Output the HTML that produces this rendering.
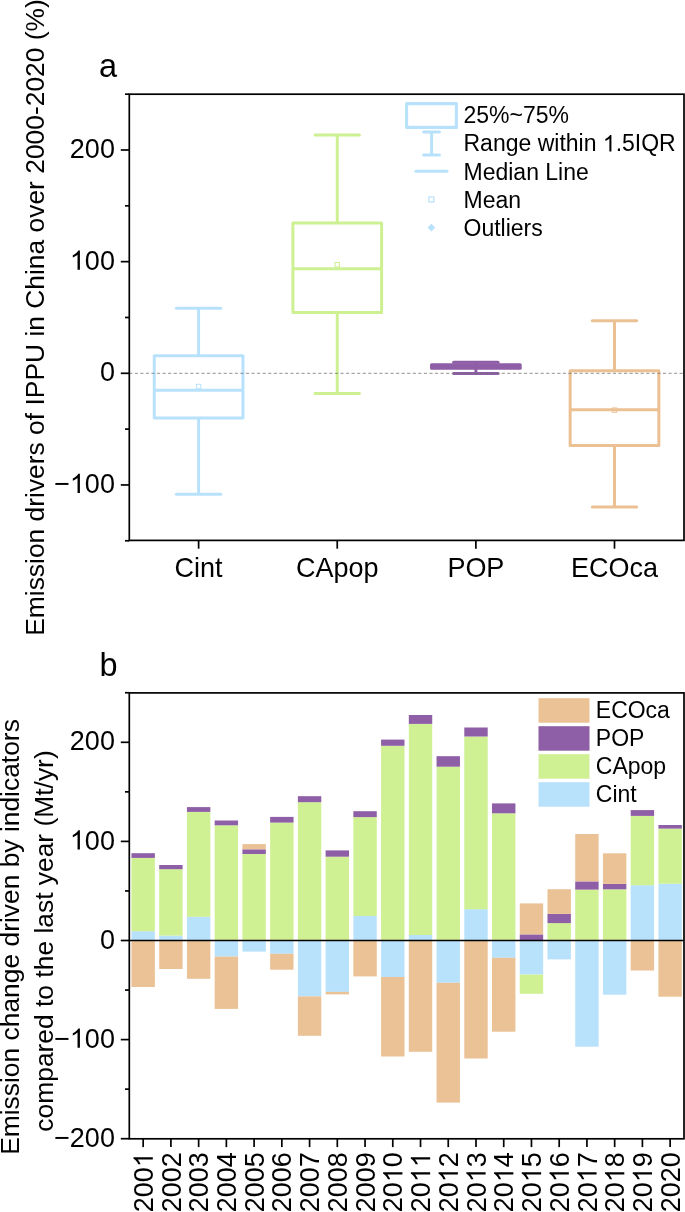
<!DOCTYPE html>
<html><head><meta charset="utf-8"><style>
html,body{margin:0;padding:0;background:#fff;}
body{width:685px;height:1212px;overflow:hidden;}
svg{display:block;will-change:transform;}
text{font-family:"Liberation Sans",sans-serif;fill:#000;}
</style></head><body>
<svg width="685" height="1212" viewBox="0 0 685 1212">
<rect width="685" height="1212" fill="#fff"/>
<line x1="198.62" y1="308.30" x2="198.62" y2="355.70" stroke="#B8E2FC" stroke-width="3.0" fill="none"/>
<line x1="198.62" y1="418.00" x2="198.62" y2="494.20" stroke="#B8E2FC" stroke-width="3.0" fill="none"/>
<line x1="176.42" y1="308.30" x2="220.81" y2="308.30" stroke="#B8E2FC" stroke-width="3.0" fill="none" stroke-linecap="round"/>
<line x1="176.42" y1="494.20" x2="220.81" y2="494.20" stroke="#B8E2FC" stroke-width="3.0" fill="none" stroke-linecap="round"/>
<rect x="154.27" y="355.70" width="88.70" height="62.30" stroke="#B8E2FC" stroke-width="3.0" fill="none" stroke-linejoin="round"/>
<line x1="154.27" y1="390.20" x2="242.97" y2="390.20" stroke="#B8E2FC" stroke-width="3.0" fill="none"/>
<rect x="196.42" y="384.30" width="4.4" height="4.4" stroke="#B8E2FC" stroke-width="1" fill="none"/>
<line x1="337.25" y1="134.90" x2="337.25" y2="223.10" stroke="#CDF093" stroke-width="3.0" fill="none"/>
<line x1="337.25" y1="312.50" x2="337.25" y2="393.60" stroke="#CDF093" stroke-width="3.0" fill="none"/>
<line x1="315.05" y1="134.90" x2="359.44" y2="134.90" stroke="#CDF093" stroke-width="3.0" fill="none" stroke-linecap="round"/>
<line x1="315.05" y1="393.60" x2="359.44" y2="393.60" stroke="#CDF093" stroke-width="3.0" fill="none" stroke-linecap="round"/>
<rect x="292.89" y="223.10" width="88.70" height="89.40" stroke="#CDF093" stroke-width="3.0" fill="none" stroke-linejoin="round"/>
<line x1="292.89" y1="268.70" x2="381.60" y2="268.70" stroke="#CDF093" stroke-width="3.0" fill="none"/>
<rect x="335.05" y="262.50" width="4.4" height="4.4" stroke="#CDF093" stroke-width="1" fill="none"/>
<line x1="475.88" y1="362.20" x2="475.88" y2="373.40" stroke="#8E5EA6" stroke-width="3.0" fill="none"/>
<line x1="453.68" y1="362.20" x2="498.07" y2="362.20" stroke="#8E5EA6" stroke-width="3.0" fill="none" stroke-linecap="round"/>
<line x1="453.68" y1="373.40" x2="498.07" y2="373.40" stroke="#8E5EA6" stroke-width="3.0" fill="none" stroke-linecap="round"/>
<rect x="431.52" y="364.80" width="88.70" height="3.40" fill="#8E5EA6" stroke="#8E5EA6" stroke-width="3.0" stroke-linejoin="round"/>
<line x1="614.50" y1="320.70" x2="614.50" y2="370.80" stroke="#EBC194" stroke-width="3.0" fill="none"/>
<line x1="614.50" y1="445.50" x2="614.50" y2="507.00" stroke="#EBC194" stroke-width="3.0" fill="none"/>
<line x1="592.30" y1="320.70" x2="636.71" y2="320.70" stroke="#EBC194" stroke-width="3.0" fill="none" stroke-linecap="round"/>
<line x1="592.30" y1="507.00" x2="636.71" y2="507.00" stroke="#EBC194" stroke-width="3.0" fill="none" stroke-linecap="round"/>
<rect x="570.15" y="370.80" width="88.70" height="74.70" stroke="#EBC194" stroke-width="3.0" fill="none" stroke-linejoin="round"/>
<line x1="570.15" y1="409.70" x2="658.86" y2="409.70" stroke="#EBC194" stroke-width="3.0" fill="none"/>
<rect x="612.30" y="407.90" width="4.4" height="4.4" stroke="#EBC194" stroke-width="1" fill="none"/>
<line x1="129.30" y1="373.30" x2="684.00" y2="373.30" stroke="#6e6e6e" stroke-width="0.75" stroke-dasharray="3.2 2.36" stroke-dashoffset="0.15"/>
<rect x="129.30" y="94.20" width="554.70" height="446.20" fill="none" stroke="#000" stroke-width="1.7"/>
<line x1="120.80" y1="150.00" x2="129.30" y2="150.00" stroke="#000" stroke-width="1.7" />
<g><text transform="translate(114.90,158.10) scale(1,1.032)" x="0" y="0" font-size="27" text-anchor="end">200</text></g>
<line x1="120.80" y1="261.65" x2="129.30" y2="261.65" stroke="#000" stroke-width="1.7" />
<g><text transform="translate(114.90,269.75) scale(1,1.032)" x="0" y="0" font-size="27" text-anchor="end">&#8199;00</text><path d="M763 0L583 0L583 1147Q518 1085 412.5 1023Q307 961 223 930L223 1104Q374 1175 484.5 1273.5Q595 1372 645 1466L763 1466Z" transform="translate(69.85,269.75) scale(0.01318,-0.01318)"/></g>
<line x1="120.80" y1="373.30" x2="129.30" y2="373.30" stroke="#000" stroke-width="1.7" />
<g><text transform="translate(114.90,381.40) scale(1,1.032)" x="0" y="0" font-size="27" text-anchor="end">0</text></g>
<line x1="120.80" y1="484.95" x2="129.30" y2="484.95" stroke="#000" stroke-width="1.7" />
<g><text transform="translate(114.90,493.05) scale(1,1.032)" x="0" y="0" font-size="27" text-anchor="end">&#8722;&#8199;00</text><path d="M763 0L583 0L583 1147Q518 1085 412.5 1023Q307 961 223 930L223 1104Q374 1175 484.5 1273.5Q595 1372 645 1466L763 1466Z" transform="translate(69.85,493.05) scale(0.01318,-0.01318)"/></g>
<line x1="125.00" y1="94.18" x2="129.30" y2="94.18" stroke="#000" stroke-width="1.7" />
<line x1="125.00" y1="205.83" x2="129.30" y2="205.83" stroke="#000" stroke-width="1.7" />
<line x1="125.00" y1="317.48" x2="129.30" y2="317.48" stroke="#000" stroke-width="1.7" />
<line x1="125.00" y1="429.12" x2="129.30" y2="429.12" stroke="#000" stroke-width="1.7" />
<line x1="125.00" y1="540.77" x2="129.30" y2="540.77" stroke="#000" stroke-width="1.7" />
<line x1="198.62" y1="540.40" x2="198.62" y2="548.70" stroke="#000" stroke-width="1.7" />
<text transform="translate(198.62,577.30) scale(1,1.02)" x="0" y="0" font-size="27" text-anchor="middle" >Cint</text>
<line x1="337.25" y1="540.40" x2="337.25" y2="548.70" stroke="#000" stroke-width="1.7" />
<text transform="translate(337.25,577.30) scale(1,1.03)" x="0" y="0" font-size="27" text-anchor="middle" >CApop</text>
<line x1="475.88" y1="540.40" x2="475.88" y2="548.70" stroke="#000" stroke-width="1.7" />
<text transform="translate(475.88,577.30) scale(1,1.03)" x="0" y="0" font-size="27" text-anchor="middle" >POP</text>
<line x1="614.50" y1="540.40" x2="614.50" y2="548.70" stroke="#000" stroke-width="1.7" />
<text transform="translate(614.50,577.30) scale(1,1.03)" x="0" y="0" font-size="27" text-anchor="middle" >ECOca</text>
<text x="99.00" y="77.30" font-size="32.5" text-anchor="start" >a</text>
<text transform="translate(44.3,317.5) rotate(-90)" x="0" y="0" font-size="26.4" text-anchor="middle">Emission drivers of IPPU in China over 2000-2020 (%)</text>
<rect x="406.6" y="103.6" width="49.8" height="23.8" fill="none" stroke="#B8E2FC" stroke-width="3.1" stroke-linejoin="round"/>
<line x1="431.6" y1="132.1" x2="431.6" y2="155.1" stroke="#B8E2FC" stroke-width="3"/>
<line x1="423.6" y1="132.1" x2="439.5" y2="132.1" stroke="#B8E2FC" stroke-width="3" stroke-linecap="round"/>
<line x1="423.6" y1="155.1" x2="439.5" y2="155.1" stroke="#B8E2FC" stroke-width="3" stroke-linecap="round"/>
<line x1="415.9" y1="171.3" x2="447.0" y2="171.3" stroke="#B8E2FC" stroke-width="3" stroke-linecap="round"/>
<rect x="428.9" y="197.0" width="5" height="5" fill="none" stroke="#B8E2FC" stroke-width="1.2"/>
<path d="M431.4 223.8 L435.2 227.6 L431.4 231.4 L427.6 227.6 Z" fill="#B8E2FC"/>
<text transform="translate(463.50,123.30) scale(1,1.032)" x="0" y="0" font-size="23" text-anchor="start" >25%~75%</text>
<text x="463.50" y="151.40" font-size="23" text-anchor="start" >Range within &#8199;.5IQR</text>
<text x="463.50" y="179.50" font-size="23" text-anchor="start" >Median Line</text>
<text x="463.50" y="207.60" font-size="23" text-anchor="start" >Mean</text>
<text x="463.50" y="235.70" font-size="23" text-anchor="start" >Outliers</text>
<path d="M763 0L583 0L583 1147Q518 1085 412.5 1023Q307 961 223 930L223 1104Q374 1175 484.5 1273.5Q595 1372 645 1466L763 1466Z" transform="translate(602.84,151.40) scale(0.01123,-0.01123)"/>
<rect x="131.47" y="931.20" width="23.4" height="9.30" fill="#B8E2FC"/>
<rect x="131.47" y="857.90" width="23.4" height="73.30" fill="#CFF093"/>
<rect x="131.47" y="853.20" width="23.4" height="4.70" fill="#8E5EA6"/>
<rect x="131.47" y="940.50" width="23.4" height="46.50" fill="#EBC295"/>
<rect x="159.20" y="935.60" width="23.4" height="4.90" fill="#B8E2FC"/>
<rect x="159.20" y="869.20" width="23.4" height="66.40" fill="#CFF093"/>
<rect x="159.20" y="865.00" width="23.4" height="4.20" fill="#8E5EA6"/>
<rect x="159.20" y="940.50" width="23.4" height="28.50" fill="#EBC295"/>
<rect x="186.94" y="916.80" width="23.4" height="23.70" fill="#B8E2FC"/>
<rect x="186.94" y="811.90" width="23.4" height="104.90" fill="#CFF093"/>
<rect x="186.94" y="807.10" width="23.4" height="4.80" fill="#8E5EA6"/>
<rect x="186.94" y="940.50" width="23.4" height="38.30" fill="#EBC295"/>
<rect x="214.67" y="825.30" width="23.4" height="115.20" fill="#CFF093"/>
<rect x="214.67" y="820.50" width="23.4" height="4.80" fill="#8E5EA6"/>
<rect x="214.67" y="940.50" width="23.4" height="16.10" fill="#B8E2FC"/>
<rect x="214.67" y="956.60" width="23.4" height="52.30" fill="#EBC295"/>
<rect x="242.41" y="854.00" width="23.4" height="86.50" fill="#CFF093"/>
<rect x="242.41" y="849.30" width="23.4" height="4.70" fill="#8E5EA6"/>
<rect x="242.41" y="844.10" width="23.4" height="5.20" fill="#EBC295"/>
<rect x="242.41" y="940.50" width="23.4" height="11.10" fill="#B8E2FC"/>
<rect x="270.14" y="822.60" width="23.4" height="117.90" fill="#CFF093"/>
<rect x="270.14" y="816.90" width="23.4" height="5.70" fill="#8E5EA6"/>
<rect x="270.14" y="940.50" width="23.4" height="13.30" fill="#B8E2FC"/>
<rect x="270.14" y="953.80" width="23.4" height="15.90" fill="#EBC295"/>
<rect x="297.88" y="802.20" width="23.4" height="138.30" fill="#CFF093"/>
<rect x="297.88" y="796.20" width="23.4" height="6.00" fill="#8E5EA6"/>
<rect x="297.88" y="940.50" width="23.4" height="55.90" fill="#B8E2FC"/>
<rect x="297.88" y="996.40" width="23.4" height="39.40" fill="#EBC295"/>
<rect x="325.61" y="856.70" width="23.4" height="83.80" fill="#CFF093"/>
<rect x="325.61" y="850.40" width="23.4" height="6.30" fill="#8E5EA6"/>
<rect x="325.61" y="940.50" width="23.4" height="51.40" fill="#B8E2FC"/>
<rect x="325.61" y="991.90" width="23.4" height="2.50" fill="#EBC295"/>
<rect x="353.35" y="916.00" width="23.4" height="24.50" fill="#B8E2FC"/>
<rect x="353.35" y="817.10" width="23.4" height="98.90" fill="#CFF093"/>
<rect x="353.35" y="811.20" width="23.4" height="5.90" fill="#8E5EA6"/>
<rect x="353.35" y="940.50" width="23.4" height="35.90" fill="#EBC295"/>
<rect x="381.08" y="745.80" width="23.4" height="194.70" fill="#CFF093"/>
<rect x="381.08" y="739.60" width="23.4" height="6.20" fill="#8E5EA6"/>
<rect x="381.08" y="940.50" width="23.4" height="36.50" fill="#B8E2FC"/>
<rect x="381.08" y="977.00" width="23.4" height="79.50" fill="#EBC295"/>
<rect x="408.82" y="935.00" width="23.4" height="5.50" fill="#B8E2FC"/>
<rect x="408.82" y="723.90" width="23.4" height="211.10" fill="#CFF093"/>
<rect x="408.82" y="715.00" width="23.4" height="8.90" fill="#8E5EA6"/>
<rect x="408.82" y="940.50" width="23.4" height="111.30" fill="#EBC295"/>
<rect x="436.55" y="766.70" width="23.4" height="173.80" fill="#CFF093"/>
<rect x="436.55" y="756.20" width="23.4" height="10.50" fill="#8E5EA6"/>
<rect x="436.55" y="940.50" width="23.4" height="42.30" fill="#B8E2FC"/>
<rect x="436.55" y="982.80" width="23.4" height="119.80" fill="#EBC295"/>
<rect x="464.29" y="909.20" width="23.4" height="31.30" fill="#B8E2FC"/>
<rect x="464.29" y="736.50" width="23.4" height="172.70" fill="#CFF093"/>
<rect x="464.29" y="727.50" width="23.4" height="9.00" fill="#8E5EA6"/>
<rect x="464.29" y="940.50" width="23.4" height="118.00" fill="#EBC295"/>
<rect x="492.02" y="813.30" width="23.4" height="127.20" fill="#CFF093"/>
<rect x="492.02" y="803.40" width="23.4" height="9.90" fill="#8E5EA6"/>
<rect x="492.02" y="940.50" width="23.4" height="17.30" fill="#B8E2FC"/>
<rect x="492.02" y="957.80" width="23.4" height="73.90" fill="#EBC295"/>
<rect x="519.76" y="934.40" width="23.4" height="6.10" fill="#8E5EA6"/>
<rect x="519.76" y="903.40" width="23.4" height="31.00" fill="#EBC295"/>
<rect x="519.76" y="940.50" width="23.4" height="34.10" fill="#B8E2FC"/>
<rect x="519.76" y="974.60" width="23.4" height="19.20" fill="#CFF093"/>
<rect x="547.49" y="923.10" width="23.4" height="17.40" fill="#CFF093"/>
<rect x="547.49" y="913.90" width="23.4" height="9.20" fill="#8E5EA6"/>
<rect x="547.49" y="889.20" width="23.4" height="24.70" fill="#EBC295"/>
<rect x="547.49" y="940.50" width="23.4" height="18.90" fill="#B8E2FC"/>
<rect x="575.23" y="889.60" width="23.4" height="50.90" fill="#CFF093"/>
<rect x="575.23" y="881.40" width="23.4" height="8.20" fill="#8E5EA6"/>
<rect x="575.23" y="834.00" width="23.4" height="47.40" fill="#EBC295"/>
<rect x="575.23" y="940.50" width="23.4" height="106.20" fill="#B8E2FC"/>
<rect x="602.96" y="889.30" width="23.4" height="51.20" fill="#CFF093"/>
<rect x="602.96" y="883.90" width="23.4" height="5.40" fill="#8E5EA6"/>
<rect x="602.96" y="853.30" width="23.4" height="30.60" fill="#EBC295"/>
<rect x="602.96" y="940.50" width="23.4" height="54.20" fill="#B8E2FC"/>
<rect x="630.70" y="885.20" width="23.4" height="55.30" fill="#B8E2FC"/>
<rect x="630.70" y="815.90" width="23.4" height="69.30" fill="#CFF093"/>
<rect x="630.70" y="810.10" width="23.4" height="5.80" fill="#8E5EA6"/>
<rect x="630.70" y="940.50" width="23.4" height="30.00" fill="#EBC295"/>
<rect x="658.43" y="883.70" width="23.4" height="56.80" fill="#B8E2FC"/>
<rect x="658.43" y="828.60" width="23.4" height="55.10" fill="#CFF093"/>
<rect x="658.43" y="825.00" width="23.4" height="3.60" fill="#8E5EA6"/>
<rect x="658.43" y="940.50" width="23.4" height="56.20" fill="#EBC295"/>
<line x1="129.30" y1="940.50" x2="684.00" y2="940.50" stroke="#000" stroke-width="1.3" />
<rect x="129.30" y="692.90" width="554.70" height="445.90" fill="none" stroke="#000" stroke-width="1.7"/>
<line x1="120.80" y1="742.30" x2="129.30" y2="742.30" stroke="#000" stroke-width="1.7" />
<g><text transform="translate(114.90,750.40) scale(1,1.032)" x="0" y="0" font-size="27" text-anchor="end">200</text></g>
<line x1="120.80" y1="841.40" x2="129.30" y2="841.40" stroke="#000" stroke-width="1.7" />
<g><text transform="translate(114.90,849.50) scale(1,1.032)" x="0" y="0" font-size="27" text-anchor="end">&#8199;00</text><path d="M763 0L583 0L583 1147Q518 1085 412.5 1023Q307 961 223 930L223 1104Q374 1175 484.5 1273.5Q595 1372 645 1466L763 1466Z" transform="translate(69.85,849.50) scale(0.01318,-0.01318)"/></g>
<line x1="120.80" y1="940.50" x2="129.30" y2="940.50" stroke="#000" stroke-width="1.7" />
<g><text transform="translate(114.90,948.60) scale(1,1.032)" x="0" y="0" font-size="27" text-anchor="end">0</text></g>
<line x1="120.80" y1="1039.60" x2="129.30" y2="1039.60" stroke="#000" stroke-width="1.7" />
<g><text transform="translate(114.90,1047.70) scale(1,1.032)" x="0" y="0" font-size="27" text-anchor="end">&#8722;&#8199;00</text><path d="M763 0L583 0L583 1147Q518 1085 412.5 1023Q307 961 223 930L223 1104Q374 1175 484.5 1273.5Q595 1372 645 1466L763 1466Z" transform="translate(69.85,1047.70) scale(0.01318,-0.01318)"/></g>
<line x1="120.80" y1="1138.70" x2="129.30" y2="1138.70" stroke="#000" stroke-width="1.7" />
<g><text transform="translate(114.90,1146.80) scale(1,1.032)" x="0" y="0" font-size="27" text-anchor="end">&#8722;200</text></g>
<line x1="125.00" y1="692.75" x2="129.30" y2="692.75" stroke="#000" stroke-width="1.7" />
<line x1="125.00" y1="791.85" x2="129.30" y2="791.85" stroke="#000" stroke-width="1.7" />
<line x1="125.00" y1="890.95" x2="129.30" y2="890.95" stroke="#000" stroke-width="1.7" />
<line x1="125.00" y1="990.05" x2="129.30" y2="990.05" stroke="#000" stroke-width="1.7" />
<line x1="125.00" y1="1089.15" x2="129.30" y2="1089.15" stroke="#000" stroke-width="1.7" />
<line x1="143.17" y1="1138.80" x2="143.17" y2="1147.10" stroke="#000" stroke-width="1.7" />
<g transform="translate(152.82,1152.20) rotate(-90)"><text transform="translate(0.00,0.00) scale(1,1.032)" x="0" y="0" font-size="27" text-anchor="end">200&#8199;</text><path d="M763 0L583 0L583 1147Q518 1085 412.5 1023Q307 961 223 930L223 1104Q374 1175 484.5 1273.5Q595 1372 645 1466L763 1466Z" transform="translate(-15.02,0.00) scale(0.01318,-0.01318)"/></g>
<line x1="170.90" y1="1138.80" x2="170.90" y2="1147.10" stroke="#000" stroke-width="1.7" />
<g transform="translate(180.55,1152.20) rotate(-90)"><text transform="translate(0.00,0.00) scale(1,1.032)" x="0" y="0" font-size="27" text-anchor="end">2002</text></g>
<line x1="198.64" y1="1138.80" x2="198.64" y2="1147.10" stroke="#000" stroke-width="1.7" />
<g transform="translate(208.29,1152.20) rotate(-90)"><text transform="translate(0.00,0.00) scale(1,1.032)" x="0" y="0" font-size="27" text-anchor="end">2003</text></g>
<line x1="226.37" y1="1138.80" x2="226.37" y2="1147.10" stroke="#000" stroke-width="1.7" />
<g transform="translate(236.02,1152.20) rotate(-90)"><text transform="translate(0.00,0.00) scale(1,1.032)" x="0" y="0" font-size="27" text-anchor="end">2004</text></g>
<line x1="254.11" y1="1138.80" x2="254.11" y2="1147.10" stroke="#000" stroke-width="1.7" />
<g transform="translate(263.76,1152.20) rotate(-90)"><text transform="translate(0.00,0.00) scale(1,1.032)" x="0" y="0" font-size="27" text-anchor="end">2005</text></g>
<line x1="281.84" y1="1138.80" x2="281.84" y2="1147.10" stroke="#000" stroke-width="1.7" />
<g transform="translate(291.49,1152.20) rotate(-90)"><text transform="translate(0.00,0.00) scale(1,1.032)" x="0" y="0" font-size="27" text-anchor="end">2006</text></g>
<line x1="309.58" y1="1138.80" x2="309.58" y2="1147.10" stroke="#000" stroke-width="1.7" />
<g transform="translate(319.23,1152.20) rotate(-90)"><text transform="translate(0.00,0.00) scale(1,1.032)" x="0" y="0" font-size="27" text-anchor="end">2007</text></g>
<line x1="337.31" y1="1138.80" x2="337.31" y2="1147.10" stroke="#000" stroke-width="1.7" />
<g transform="translate(346.96,1152.20) rotate(-90)"><text transform="translate(0.00,0.00) scale(1,1.032)" x="0" y="0" font-size="27" text-anchor="end">2008</text></g>
<line x1="365.05" y1="1138.80" x2="365.05" y2="1147.10" stroke="#000" stroke-width="1.7" />
<g transform="translate(374.70,1152.20) rotate(-90)"><text transform="translate(0.00,0.00) scale(1,1.032)" x="0" y="0" font-size="27" text-anchor="end">2009</text></g>
<line x1="392.78" y1="1138.80" x2="392.78" y2="1147.10" stroke="#000" stroke-width="1.7" />
<g transform="translate(402.43,1152.20) rotate(-90)"><text transform="translate(0.00,0.00) scale(1,1.032)" x="0" y="0" font-size="27" text-anchor="end">20&#8199;0</text><path d="M763 0L583 0L583 1147Q518 1085 412.5 1023Q307 961 223 930L223 1104Q374 1175 484.5 1273.5Q595 1372 645 1466L763 1466Z" transform="translate(-30.03,0.00) scale(0.01318,-0.01318)"/></g>
<line x1="420.52" y1="1138.80" x2="420.52" y2="1147.10" stroke="#000" stroke-width="1.7" />
<g transform="translate(430.17,1152.20) rotate(-90)"><text transform="translate(0.00,0.00) scale(1,1.032)" x="0" y="0" font-size="27" text-anchor="end">20&#8199;&#8199;</text><path d="M763 0L583 0L583 1147Q518 1085 412.5 1023Q307 961 223 930L223 1104Q374 1175 484.5 1273.5Q595 1372 645 1466L763 1466Z" transform="translate(-30.03,0.00) scale(0.01318,-0.01318)"/><path d="M763 0L583 0L583 1147Q518 1085 412.5 1023Q307 961 223 930L223 1104Q374 1175 484.5 1273.5Q595 1372 645 1466L763 1466Z" transform="translate(-15.02,0.00) scale(0.01318,-0.01318)"/></g>
<line x1="448.25" y1="1138.80" x2="448.25" y2="1147.10" stroke="#000" stroke-width="1.7" />
<g transform="translate(457.90,1152.20) rotate(-90)"><text transform="translate(0.00,0.00) scale(1,1.032)" x="0" y="0" font-size="27" text-anchor="end">20&#8199;2</text><path d="M763 0L583 0L583 1147Q518 1085 412.5 1023Q307 961 223 930L223 1104Q374 1175 484.5 1273.5Q595 1372 645 1466L763 1466Z" transform="translate(-30.03,0.00) scale(0.01318,-0.01318)"/></g>
<line x1="475.99" y1="1138.80" x2="475.99" y2="1147.10" stroke="#000" stroke-width="1.7" />
<g transform="translate(485.64,1152.20) rotate(-90)"><text transform="translate(0.00,0.00) scale(1,1.032)" x="0" y="0" font-size="27" text-anchor="end">20&#8199;3</text><path d="M763 0L583 0L583 1147Q518 1085 412.5 1023Q307 961 223 930L223 1104Q374 1175 484.5 1273.5Q595 1372 645 1466L763 1466Z" transform="translate(-30.03,0.00) scale(0.01318,-0.01318)"/></g>
<line x1="503.72" y1="1138.80" x2="503.72" y2="1147.10" stroke="#000" stroke-width="1.7" />
<g transform="translate(513.37,1152.20) rotate(-90)"><text transform="translate(0.00,0.00) scale(1,1.032)" x="0" y="0" font-size="27" text-anchor="end">20&#8199;4</text><path d="M763 0L583 0L583 1147Q518 1085 412.5 1023Q307 961 223 930L223 1104Q374 1175 484.5 1273.5Q595 1372 645 1466L763 1466Z" transform="translate(-30.03,0.00) scale(0.01318,-0.01318)"/></g>
<line x1="531.46" y1="1138.80" x2="531.46" y2="1147.10" stroke="#000" stroke-width="1.7" />
<g transform="translate(541.11,1152.20) rotate(-90)"><text transform="translate(0.00,0.00) scale(1,1.032)" x="0" y="0" font-size="27" text-anchor="end">20&#8199;5</text><path d="M763 0L583 0L583 1147Q518 1085 412.5 1023Q307 961 223 930L223 1104Q374 1175 484.5 1273.5Q595 1372 645 1466L763 1466Z" transform="translate(-30.03,0.00) scale(0.01318,-0.01318)"/></g>
<line x1="559.19" y1="1138.80" x2="559.19" y2="1147.10" stroke="#000" stroke-width="1.7" />
<g transform="translate(568.84,1152.20) rotate(-90)"><text transform="translate(0.00,0.00) scale(1,1.032)" x="0" y="0" font-size="27" text-anchor="end">20&#8199;6</text><path d="M763 0L583 0L583 1147Q518 1085 412.5 1023Q307 961 223 930L223 1104Q374 1175 484.5 1273.5Q595 1372 645 1466L763 1466Z" transform="translate(-30.03,0.00) scale(0.01318,-0.01318)"/></g>
<line x1="586.93" y1="1138.80" x2="586.93" y2="1147.10" stroke="#000" stroke-width="1.7" />
<g transform="translate(596.58,1152.20) rotate(-90)"><text transform="translate(0.00,0.00) scale(1,1.032)" x="0" y="0" font-size="27" text-anchor="end">20&#8199;7</text><path d="M763 0L583 0L583 1147Q518 1085 412.5 1023Q307 961 223 930L223 1104Q374 1175 484.5 1273.5Q595 1372 645 1466L763 1466Z" transform="translate(-30.03,0.00) scale(0.01318,-0.01318)"/></g>
<line x1="614.66" y1="1138.80" x2="614.66" y2="1147.10" stroke="#000" stroke-width="1.7" />
<g transform="translate(624.31,1152.20) rotate(-90)"><text transform="translate(0.00,0.00) scale(1,1.032)" x="0" y="0" font-size="27" text-anchor="end">20&#8199;8</text><path d="M763 0L583 0L583 1147Q518 1085 412.5 1023Q307 961 223 930L223 1104Q374 1175 484.5 1273.5Q595 1372 645 1466L763 1466Z" transform="translate(-30.03,0.00) scale(0.01318,-0.01318)"/></g>
<line x1="642.40" y1="1138.80" x2="642.40" y2="1147.10" stroke="#000" stroke-width="1.7" />
<g transform="translate(652.05,1152.20) rotate(-90)"><text transform="translate(0.00,0.00) scale(1,1.032)" x="0" y="0" font-size="27" text-anchor="end">20&#8199;9</text><path d="M763 0L583 0L583 1147Q518 1085 412.5 1023Q307 961 223 930L223 1104Q374 1175 484.5 1273.5Q595 1372 645 1466L763 1466Z" transform="translate(-30.03,0.00) scale(0.01318,-0.01318)"/></g>
<line x1="670.13" y1="1138.80" x2="670.13" y2="1147.10" stroke="#000" stroke-width="1.7" />
<g transform="translate(679.78,1152.20) rotate(-90)"><text transform="translate(0.00,0.00) scale(1,1.032)" x="0" y="0" font-size="27" text-anchor="end">2020</text></g>
<text x="99.50" y="676.00" font-size="32.5" text-anchor="start" >b</text>
<text transform="translate(19.3,937) rotate(-90)" x="0" y="0" font-size="26.4" text-anchor="middle">Emission change driven by indicators</text>
<text transform="translate(53.1,941) rotate(-90)" x="0" y="0" font-size="26.4" text-anchor="middle">compared to the last year (Mt/yr)</text>
<rect x="538.5" y="698.20" width="51" height="24.5" fill="#EBC295"/>
<text transform="translate(595.80,718.40) scale(1,1.03)" x="0" y="0" font-size="23" text-anchor="start" >ECOca</text>
<rect x="538.5" y="726.20" width="51" height="24.5" fill="#8E5EA6"/>
<text transform="translate(595.80,746.40) scale(1,1.03)" x="0" y="0" font-size="23" text-anchor="start" >POP</text>
<rect x="538.5" y="754.20" width="51" height="24.5" fill="#CFF093"/>
<text transform="translate(595.80,774.40) scale(1,1.03)" x="0" y="0" font-size="23" text-anchor="start" >CApop</text>
<rect x="538.5" y="782.20" width="51" height="24.5" fill="#B8E2FC"/>
<text transform="translate(595.80,802.40) scale(1,1.02)" x="0" y="0" font-size="23" text-anchor="start" >Cint</text>
</svg>
</body></html>
